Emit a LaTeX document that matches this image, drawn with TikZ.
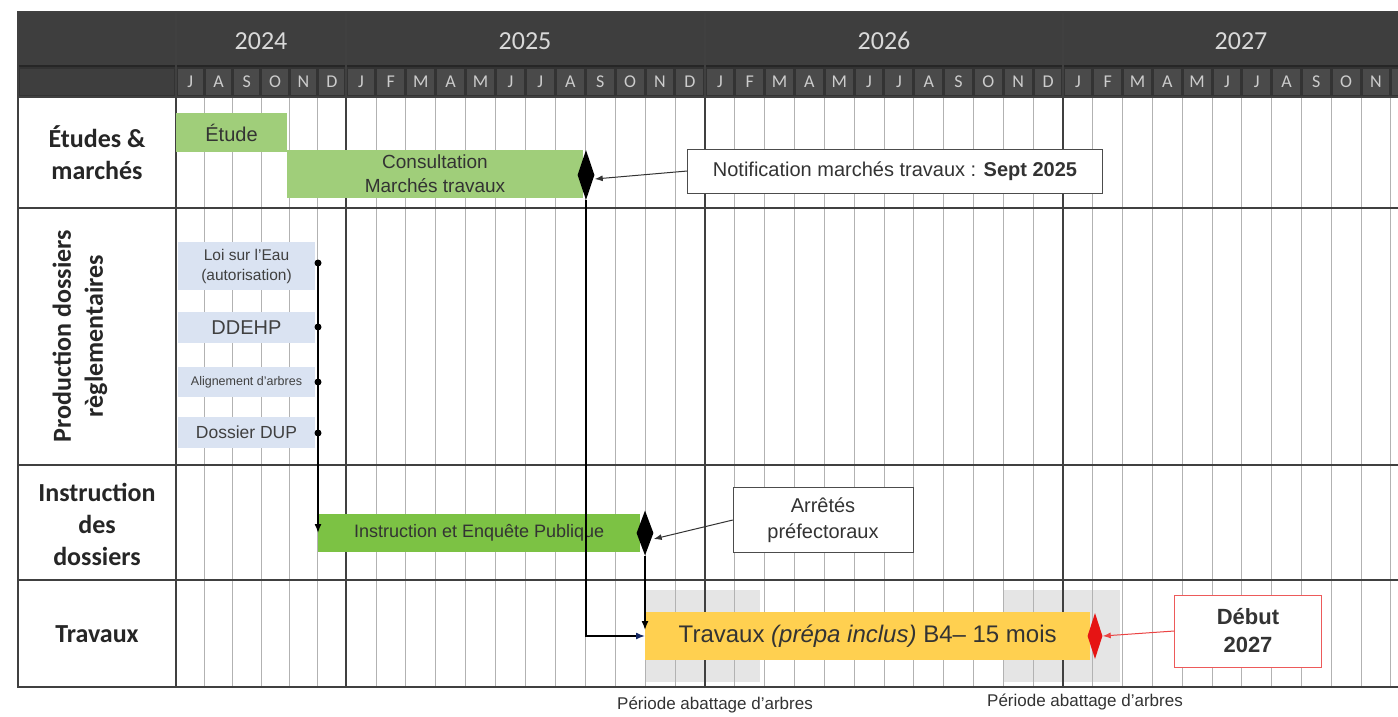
\documentclass[tikz,border=0pt]{standalone}
\usepackage{fontspec}
\setmainfont{Liberation Sans}
\newfontfamily\calib{Carlito}
\usetikzlibrary{shapes.geometric,arrows.meta,positioning}
\definecolor{hdrgray}{RGB}{62,62,62}
\definecolor{cellgray}{RGB}{74,74,74}
\definecolor{lightgreen}{RGB}{160,206,122}
\definecolor{brightgreen}{RGB}{124,194,68}
\definecolor{paleblue}{RGB}{218,227,242}
\definecolor{ambre}{RGB}{255,208,80}
\definecolor{navyarrow}{RGB}{20,40,100}
\definecolor{redmark}{RGB}{230,20,20}
\begin{document}
\begin{tikzpicture}[x=1pt,y=-1pt]
\tikzstyle{bar}=[rectangle,inner sep=0pt,text=black!80,align=center]
\tikzstyle{dossier}=[rectangle,fill=paleblue,inner sep=0pt,text=black!75,align=center,minimum width=137]
\tikzstyle{jalon}=[diamond,fill=black,inner sep=0pt,minimum width=17,minimum height=50]
\tikzstyle{note}=[rectangle,draw=black!70,fill=white,inner sep=0pt,align=center,text=black!80]
\tikzstyle{pastille}=[circle,fill=black,inner sep=0pt,minimum size=7]
\tikzstyle{rowlabel}=[align=center,font=\calib\bfseries\fontsize{26}{32}\selectfont,text=black!85]
\tikzstyle{yearlabel}=[font=\calib\fontsize{26}{28}\selectfont,text=black!15]
\tikzstyle{monthlabel}=[font=\calib\fontsize{18}{20}\selectfont,text=black!20]
\tikzstyle{monthline}=[black!30,line width=0.8pt]
\tikzstyle{yearline}=[black!75,line width=1.6pt]
\useasboundingbox (0,0) rectangle (1398,716);
\clip (0,0) rectangle (1398,716);

\fill[white] (0,0) rectangle (1398,716);
\fill[hdrgray] (18,12) rectangle (1398,97);
\fill[black!80] (18,66) rectangle (1398,97);

\fill[black!10] (645,590) rectangle (760,682);
\fill[black!10] (1003,590) rectangle (1120,682);

\foreach \i in {1,...,5}
  \draw[monthline] ({176+\i*28.33},97) -- ({176+\i*28.33},687);
\foreach \i in {1,...,11} {
  \draw[monthline] ({346+\i*29.9},97) -- ({346+\i*29.9},687);
  \draw[monthline] ({705+\i*29.83},97) -- ({705+\i*29.83},687);
  \draw[monthline] ({1063+\i*29.8},97) -- ({1063+\i*29.8},687);
}

\fill[hdrgray] (20,68.5) rectangle (174,95);
\foreach \m [count=\i] in {J,A,S,O,N,D} {
  \fill[cellgray] ({176+(\i-1)*28.33+1.5},68.5) rectangle ({176+\i*28.33-1.5},95);
  \node[monthlabel] (m24-\i) at ({176+(\i-0.5)*28.33},81.5) {\m};
}
\foreach \m [count=\i] in {J,F,M,A,M,J,J,A,S,O,N,D} {
  \fill[cellgray] ({346+(\i-1)*29.9+1.5},68.5) rectangle ({346+\i*29.9-1.5},95);
  \node[monthlabel] (m25-\i) at ({346+(\i-0.5)*29.9},81.5) {\m};
  \fill[cellgray] ({705+(\i-1)*29.83+1.5},68.5) rectangle ({705+\i*29.83-1.5},95);
  \node[monthlabel] (m26-\i) at ({705+(\i-0.5)*29.83},81.5) {\m};
  \fill[cellgray] ({1063+(\i-1)*29.8+1.5},68.5) rectangle ({1063+\i*29.8-1.5},95);
}
\foreach \m [count=\i] in {J,F,M,A,M,J,J,A,S,O,N}
  \node[monthlabel] (m27-\i) at ({1063+(\i-0.5)*29.8},81.5) {\m};

\node[yearlabel] (y2024) at (261,41) {2024};
\node[yearlabel] (y2025) at (525,41) {2025};
\node[yearlabel] (y2026) at (884,41) {2026};
\node[yearlabel] (y2027) at (1241,41) {2027};

\draw[black!85,line width=2pt] (18,66) -- (1398,66);
\foreach \x in {176,346,705,1063}
  \draw[yearline] (\x,12) -- (\x,687);
\foreach \y in {97,208,465,580}
  \draw[black!75,line width=2pt] (18,\y) -- (1398,\y);
\draw[black!75,line width=2pt] (1398,12) -- (18,12) -- (18,687) -- (1398,687);

\node[rowlabel] (lbl-etudes) at (97,153) {Études \&\\marchés};
\node[rowlabel,rotate=90] (lbl-prod) at (80,336) {Production dossiers\\règlementaires};
\node[rowlabel] (lbl-instr) at (97,524) {Instruction\\des\\dossiers};
\node[rowlabel] (lbl-trav) at (97,634) {Travaux};

\node[bar,fill=lightgreen,minimum width=111,minimum height=39,font=\fontsize{20}{22}\selectfont] (etude) at (231.5,132.5) {Étude};
\node[bar,fill=lightgreen,minimum width=296,minimum height=48,font=\fontsize{19}{24}\selectfont] (consult) at (435,174) {Consultation\\Marchés travaux};
\node[jalon] (notifjalon) at (586,175) {};
\node[note,minimum width=415,minimum height=44,font=\fontsize{20}{22}\selectfont] (notif) at (895,171) {Notification marchés travaux : \textbf{Sept 2025}};
\draw[black!80,line width=1pt,-{Latex[length=8pt,width=6pt]}] (notif.west) -- ([yshift=-4pt]notifjalon.east);

\node[dossier,minimum height=48,font=\fontsize{15.5}{20}\selectfont] (loi) at (246.5,266) {Loi sur l'Eau\\(autorisation)};
\node[dossier,minimum height=31,font=\fontsize{20}{22}\selectfont] (ddehp) at (246.5,327.5) {DDEHP};
\node[dossier,minimum height=30,font=\fontsize{12.5}{14}\selectfont] (align) at (246.5,382) {Alignement d'arbres};
\node[dossier,minimum height=31,font=\fontsize{17.5}{19}\selectfont] (dup) at (246.5,432.5) {Dossier DUP};
\node[pastille] (p-loi) at (318,263) {};
\node[pastille] (p-ddehp) at (318,327) {};
\node[pastille] (p-align) at (318,382) {};
\node[pastille] (p-dup) at (318,433) {};

\node[bar,fill=brightgreen,minimum width=322,minimum height=38,font=\fontsize{18}{20}\selectfont,anchor=west] (instr) at (318,533) {Instruction et Enquête Publique};
\node[jalon,minimum height=45] (arretjalon) at (645,533) {};
\node[note,minimum width=180,minimum height=65,font=\fontsize{20}{26}\selectfont] (arret) at (823,520) {Arrêtés\\préfectoraux};
\draw[black!80,line width=1pt,-{Latex[length=8pt,width=6pt]}] (arret.west) -- ([yshift=-6pt]arretjalon.east);

\node[bar,fill=ambre,minimum width=445,minimum height=48,font=\fontsize{24}{26}\selectfont,anchor=west] (trav) at (645,636) {Travaux \textit{(prépa inclus)} B4– 15 mois};
\node[jalon,fill=redmark,minimum width=15,minimum height=46] (debutjalon) at (1095,636) {};
\node[note,draw=redmark!70,minimum width=147,minimum height=72,font=\bfseries\fontsize{22}{28}\selectfont] (debut) at (1248,631) {Début\\2027};
\draw[redmark!80,line width=1pt,-{Latex[length=8pt,width=6pt]}] (debut.west) -- (debutjalon.east);

\draw[black,line width=1.5pt] (p-loi.center) -- (p-dup.center);
\draw[black,line width=1.5pt,-{Latex[length=9pt,width=7pt]}] (p-dup.center) -- (instr.west);
\draw[black,line width=1.5pt,-{Latex[length=9pt,width=7pt,color=navyarrow]}] (notifjalon.south) |- (trav.west);
\draw[black,line width=1.5pt,-{Latex[length=9pt,width=7pt]}] (arretjalon.south) -- ([yshift=6pt]trav.west);

\node[font=\fontsize{17}{19}\selectfont,text=black!80] (abattage1) at (715,705) {Période abattage d'arbres};
\node[font=\fontsize{17}{19}\selectfont,text=black!80] (abattage2) at (1085,702) {Période abattage d'arbres};
\end{tikzpicture}
\end{document}
